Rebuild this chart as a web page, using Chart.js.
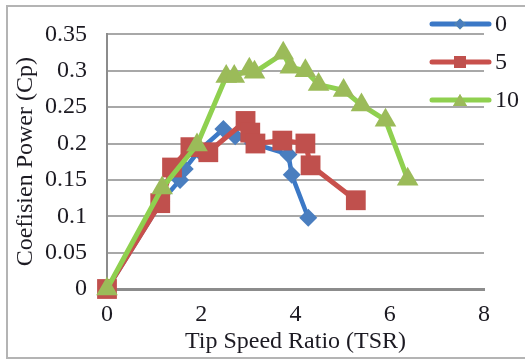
<!DOCTYPE html>
<html>
<head>
<meta charset="utf-8">
<script src="https://cdn.jsdelivr.net/npm/chart.js@4/dist/chart.umd.min.js"></script>
<style>
  html, body { margin: 0; padding: 0; background: #ffffff; }
  #wrap { width: 525px; height: 360px; position: relative; }
</style>
</head>
<body>
<div id="wrap"><canvas id="c" width="525" height="360"></canvas></div>
<script>
// Power coefficient vs tip speed ratio for three blade settings
const seriesLabels = ['0', '5', '10'];

const tsr0 = [0, 1.15, 1.55, 1.65, 1.95, 2.47, 2.72, 3.1, 3.85, 3.92, 4.27];
const cp0  = [0, 0.12, 0.15, 0.165, 0.19, 0.22, 0.21, 0.2, 0.185, 0.157, 0.098];

const tsr5 = [0, 1.13, 1.38, 1.77, 2.15, 2.94, 3.04, 3.15, 3.72, 4.21, 4.32, 5.28];
const cp5  = [0, 0.118, 0.167, 0.195, 0.188, 0.231, 0.215, 0.2, 0.204, 0.2, 0.17, 0.122];

const tsr10 = [0, 1.17, 1.91, 2.53, 2.7, 3.02, 3.13, 3.74, 3.89, 4.21, 4.49, 5.02, 5.4, 5.91, 6.38];
const cp10  = [0, 0.139, 0.198, 0.292, 0.292, 0.302, 0.298, 0.324, 0.305, 0.3, 0.281, 0.273, 0.253, 0.232, 0.151];

const xTicks = [0, 2, 4, 6, 8];
const yTicks = [0, 0.05, 0.1, 0.15, 0.2, 0.25, 0.3, 0.35];

const toPoints = (xs, ys) => xs.map((x, i) => ({ x: x, y: ys[i] }));

const FONT = '"Liberation Serif", "Times New Roman", serif';
const TEXT = '#1c1a22';

// Outer frame around the whole chart
const framePlugin = {
  id: 'frame',
  beforeDraw(chart) {
    const ctx = chart.ctx;
    ctx.save();
    ctx.fillStyle = '#ffffff';
    ctx.fillRect(0, 0, chart.width, chart.height);
    ctx.strokeStyle = '#b4b4b4';
    ctx.lineWidth = 2;
    ctx.strokeRect(7, 6, 530, 352);
    ctx.restore();
  }
};

// Legend drawn in the upper right corner with line + marker samples
const legendPlugin = {
  id: 'cornerLegend',
  afterDraw(chart) {
    const ctx = chart.ctx;
    const ys = [24, 62, 100];
    const sampleStyle = [
      { style: 'rectRot', r: 5.5 },
      { style: 'rect', r: 8.5 },
      { style: 'triangle', r: 8 }
    ];
    chart.data.datasets.forEach((ds, i) => {
      const y = ys[i];
      ctx.save();
      ctx.strokeStyle = ds.borderColor;
      ctx.lineWidth = 5;
      ctx.lineCap = 'round';
      ctx.beginPath();
      ctx.moveTo(432, y);
      ctx.lineTo(489, y);
      ctx.stroke();
      ctx.restore();
      Chart.helpers.drawPoint(ctx, {
        pointStyle: sampleStyle[i].style,
        radius: sampleStyle[i].r,
        borderWidth: 0,
        rotation: 0
      }, 460, y + (sampleStyle[i].style === 'triangle' ? 2 : 0));
      ctx.save();
      ctx.fillStyle = ds.pointBackgroundColor;
      ctx.fill();
      ctx.restore();
      ctx.save();
      ctx.fillStyle = TEXT;
      ctx.font = '24px ' + FONT;
      ctx.textBaseline = 'middle';
      ctx.textAlign = 'left';
      ctx.fillText(ds.label, 495, y + 1);
      ctx.restore();
    });
  }
};

new Chart(document.getElementById('c'), {
  type: 'scatter',
  data: {
    datasets: [
      {
        label: seriesLabels[0],
        data: toPoints(tsr0, cp0),
        showLine: true,
        clip: false,
        borderColor: '#3b78c6',
        borderWidth: 4.5,
        pointStyle: 'rectRot',
        pointRadius: 9,
        pointBackgroundColor: '#4a7ebf',
        pointBorderWidth: 0,
        order: 2
      },
      {
        label: seriesLabels[1],
        data: toPoints(tsr5, cp5),
        showLine: true,
        clip: false,
        borderColor: '#c8504c',
        borderWidth: 5,
        pointStyle: 'rect',
        pointRadius: 14,
        pointBackgroundColor: '#c0504d',
        pointBorderWidth: 0,
        order: 1
      },
      {
        label: seriesLabels[2],
        data: toPoints(tsr10, cp10),
        showLine: true,
        clip: false,
        borderColor: '#8fd04f',
        borderWidth: 5,
        pointStyle: 'triangle',
        pointRadius: 12.5,
        pointBackgroundColor: '#9bbb59',
        pointBorderWidth: 0,
        order: 0
      }
    ]
  },
  options: {
    responsive: false,
    animation: false,
    devicePixelRatio: 1,
    layout: { padding: { top: 25, right: 41, bottom: 0, left: 0 } },
    plugins: {
      legend: { display: false },
      tooltip: { enabled: false }
    },
    elements: { line: { tension: 0 } },
    scales: {
      x: {
        type: 'linear',
        min: 0,
        max: 8,
        afterBuildTicks(scale) { scale.ticks = xTicks.map(v => ({ value: v })); },
        afterFit(scale) { scale.height = 71; },
        grid: { display: false, drawTicks: false },
        border: { display: true, color: '#8c8c8c', width: 3 },
        ticks: {
          color: TEXT,
          font: { family: FONT, size: 24 },
          padding: 11,
          maxRotation: 0
        },
        title: {
          display: true,
          text: 'Tip Speed Ratio (TSR)',
          color: TEXT,
          font: { family: FONT, size: 24 },
          padding: { top: 0, bottom: 4 }
        }
      },
      y: {
        type: 'linear',
        min: 0,
        max: 0.35,
        afterBuildTicks(scale) { scale.ticks = yTicks.map(v => ({ value: v })); },
        afterFit(scale) { scale.width = 107; },
        grid: { color: '#a8a8a8', lineWidth: 2, drawTicks: false },
        border: { display: true, color: '#8c8c8c', width: 2 },
        ticks: {
          color: TEXT,
          font: { family: FONT, size: 24 },
          padding: 20,
          callback: v => String(v)
        },
        title: {
          display: true,
          text: 'Coefisien Power (Cp)',
          color: TEXT,
          font: { family: FONT, size: 24 },
          padding: { top: 11, bottom: 0 }
        }
      }
    }
  },
  plugins: [framePlugin, legendPlugin]
});
</script>
</body>
</html>
